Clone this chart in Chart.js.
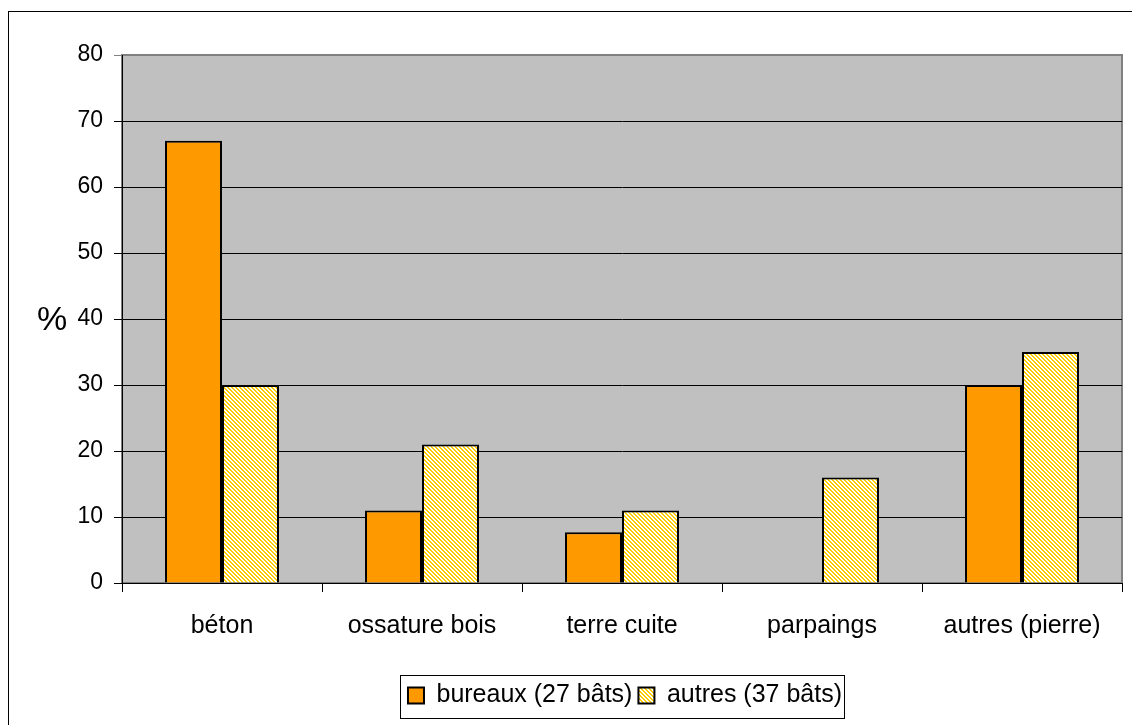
<!DOCTYPE html>
<html>
<head>
<meta charset="utf-8">
<title>Matériaux de structure</title>
<script src="https://cdn.jsdelivr.net/npm/chart.js@4.4.1/dist/chart.umd.min.js"></script>
<style>
  html, body { margin: 0; padding: 0; background: #fff; }
  #wrap { width: 1132px; height: 725px; position: relative; }
</style>
</head>
<body>
<div id="wrap"><canvas id="barChart" width="1132" height="725"></canvas></div>
<script>
var categories = ["béton", "ossature bois", "terre cuite", "parpaings", "autres (pierre)"];
var bureaux = [67, 11, 7.7, 0, 30];
var autres = [30, 21, 11, 16, 35];
var serieLabels = ["bureaux (27 bâts)", "autres (37 bâts)"];
var yTicks = [0, 10, 20, 30, 40, 50, 60, 70, 80];

var police = "'Liberation Sans', Arial, sans-serif";

// small tile of yellow diagonal stripes on white
function motifHachure() {
	var c = document.createElement("canvas");
	c.width = 4;
	c.height = 4;
	var g = c.getContext("2d");
	g.fillStyle = "#ffffff";
	g.fillRect(0, 0, 4, 4);
	g.fillStyle = "#ffcc00";
	for (var y = 0; y < 4; y++) {
		for (var x = 0; x < 4; x++) {
			var d = ((x - y) % 4 + 4) % 4;
			if (d === 0 || d === 1) g.fillRect(x, y, 1, 1);
		}
	}
	return g.createPattern(c, "repeat");
}

var hachure = motifHachure();

// legend sits a little right of the page centre
var decalageLegende = 64;

// grey plot background, page frame and the "%" label
var cadre = {
	id: "cadre",
	afterLayout: function(chart) {
		var lg = chart.legend;
		if (!lg) return;
		lg.left += decalageLegende;
		lg.right += decalageLegende;
		lg.top += 2;
		lg.bottom += 2;
		(lg.legendHitBoxes || []).forEach(function(b) { b.left += decalageLegende; b.top += 2; });
	},
	beforeDraw: function(chart) {
		var ctx = chart.ctx;
		var a = chart.chartArea;
		ctx.save();
		ctx.fillStyle = "#ffffff";
		ctx.fillRect(0, 0, chart.width, chart.height);
		ctx.strokeStyle = "#000000";
		ctx.lineWidth = 1;
		ctx.strokeRect(8.5, 11.5, chart.width + 20, chart.height + 20);
		ctx.fillStyle = "#c0c0c0";
		ctx.fillRect(a.left, a.top, a.right - a.left, a.bottom - a.top);
		ctx.strokeStyle = "#808080";
		ctx.lineWidth = 2;
		ctx.strokeRect(a.left, a.top, a.right - a.left, a.bottom - a.top);
		ctx.fillStyle = "#000000";
		ctx.font = "34px " + police;
		ctx.textAlign = "center";
		ctx.textBaseline = "middle";
		ctx.fillText("%", 52, a.top + (a.bottom - a.top) * 0.5 + 2);
		ctx.restore();
	},
	afterDraw: function(chart) {
		// frame around the legend entries
		var lg = chart.legend;
		if (!lg || !lg.legendHitBoxes || !lg.legendHitBoxes.length) return;
		var boxes = lg.legendHitBoxes;
		var first = boxes[0];
		var last = boxes[boxes.length - 1];
		var ctx = chart.ctx;
		ctx.save();
		ctx.strokeStyle = "#000000";
		ctx.lineWidth = 1;
		var x0 = Math.round(first.left) - 7.5;
		var x1 = Math.round(last.left + last.width) + 2.5;
		ctx.strokeRect(x0, Math.round(lg.top) - 1.5, x1 - x0, Math.round(lg.height) + 2);
		ctx.restore();
	}
};

var ctx = document.getElementById("barChart").getContext("2d");
var barChart = new Chart(ctx, {
	type: "bar",
	data: {
		labels: categories,
		datasets: [{
			label: serieLabels[0],
			data: bureaux,
			backgroundColor: "#ff9900",
			borderColor: "#000000",
			borderWidth: 2,
			borderSkipped: "bottom"
		}, {
			label: serieLabels[1],
			data: autres,
			backgroundColor: hachure,
			borderColor: "#000000",
			borderWidth: 2,
			borderSkipped: "bottom"
		}]
	},
	options: {
		responsive: false,
		animation: false,
		layout: {
			padding: { left: 0, top: 55, right: 10, bottom: 9 }
		},
		categoryPercentage: 0.57,
		barPercentage: 1.0,
		plugins: {
			tooltip: { enabled: false },
			legend: {
				position: "bottom",
				labels: {
					color: "#000000",
					font: { family: police, size: 25 },
					boxWidth: 16,
					boxHeight: 16,
					padding: 6,
					generateLabels: function(chart) {
						return chart.data.datasets.map(function(ds, i) {
							return {
								text: ds.label,
								fillStyle: ds.backgroundColor,
								strokeStyle: "#000000",
								lineWidth: 2,
								datasetIndex: i,
								fontColor: "#000000"
							};
						});
					}
				}
			}
		},
		scales: {
			x: {
				afterFit: function(scale) { scale.height = 92; },
				grid: {
					offset: true,
					drawOnChartArea: false,
					drawTicks: true,
					tickLength: 9,
					color: "#000000"
				},
				border: { display: true, color: "#000000", width: 1 },
				ticks: {
					color: "#000000",
					font: { family: police, size: 25 },
					padding: 19,
					maxRotation: 0
				}
			},
			y: {
				min: 0,
				max: 80,
				afterFit: function(scale) { scale.width = 122; },
				afterBuildTicks: function(scale) {
					scale.ticks = yTicks.map(function(v) { return { value: v }; });
				},
				grid: {
					drawTicks: true,
					tickLength: 8,
					color: function(c) {
						return c.tick && c.tick.value === 80 ? "#808080" : "#000000";
					},
					lineWidth: 1
				},
				border: { display: true, color: "#000000", width: 1 },
				ticks: {
					color: "#000000",
					font: { family: police, size: 23 },
					padding: 11
				}
			}
		}
	},
	plugins: [cadre]
});
</script>
</body>
</html>
